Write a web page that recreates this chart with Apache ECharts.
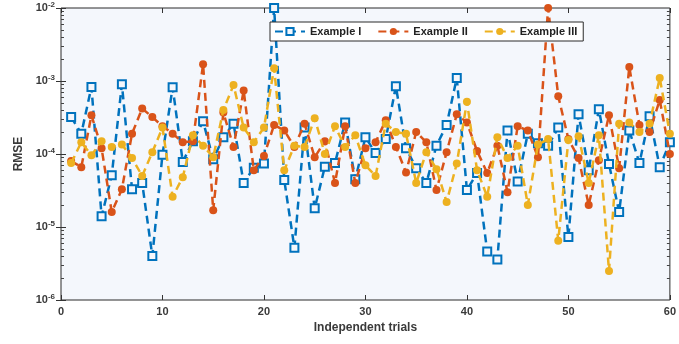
<!DOCTYPE html>
<html>
<head>
<meta charset="utf-8">
<script src="https://cdn.jsdelivr.net/npm/echarts@6/dist/echarts.min.js"></script>
<style>
  html, body { margin: 0; padding: 0; background: #fff; }
  #chart { width: 679px; height: 344px; }
</style>
</head>
<body>
<div id="chart"></div>
<script>
// trial numbers 1..60
var trials = [];
for (var t = 1; t <= 60; t++) trials.push(t);

var seriesNames = ['Example I', 'Example II', 'Example III'];

var exampleI = [
  3.2e-4, 1.9e-4, 8.3e-4, 1.4e-5, 5.1e-5, 9.0e-4, 3.3e-5, 4.0e-5, 4.0e-6, 9.8e-5,
  8.2e-4, 7.8e-5, 1.5e-4, 2.8e-4, 8.5e-5, 1.7e-4, 2.6e-4, 4.0e-5, 6.5e-5, 7.4e-5,
  1.0e-2, 4.4e-5, 5.2e-6, 2.3e-4, 1.8e-5, 6.7e-5, 7.5e-5, 2.7e-4, 4.5e-5, 1.7e-4,
  1.03e-4, 1.6e-4, 8.5e-4, 1.2e-4, 6.4e-5, 4.0e-5, 1.3e-4, 2.5e-4, 1.1e-3, 3.2e-5,
  5.5e-5, 4.6e-6, 3.6e-6, 2.1e-4, 4.2e-5, 1.9e-4, 1.4e-4, 1.3e-4, 2.3e-4, 7.3e-6,
  3.5e-4, 6.0e-5, 4.1e-4, 7.3e-5, 1.6e-5, 2.1e-4, 7.5e-5, 3.3e-4, 6.6e-5, 1.45e-4
];
var exampleII = [
  8.0e-5, 6.6e-5, 3.4e-4, 1.2e-4, 1.6e-5, 3.3e-5, 1.9e-4, 4.2e-4, 3.2e-4, 2.4e-4,
  1.9e-4, 1.45e-4, 1.5e-4, 1.7e-3, 1.7e-5, 3.7e-4, 1.25e-4, 7.4e-4, 6.0e-5, 9.4e-5,
  2.5e-4, 2.1e-4, 1.25e-4, 2.6e-4, 9.0e-5, 1.5e-4, 4.0e-5, 2.4e-4, 4.0e-5, 1.2e-4,
  1.45e-4, 2.9e-4, 1.25e-4, 5.6e-5, 2.0e-4, 1.45e-4, 3.2e-5, 1.06e-4, 3.5e-4, 2.7e-4,
  1.1e-4, 5.5e-5, 1.3e-4, 3.0e-5, 2.4e-4, 2.1e-4, 9.0e-5, 1.0e-2, 6.2e-4, 1.6e-4,
  8.8e-5, 2.0e-5, 8.2e-5, 3.4e-4, 6.4e-5, 1.55e-3, 2.5e-4, 2.0e-4, 5.5e-4, 1.0e-4
];
var exampleIII = [
  7.5e-5, 1.45e-4, 9.6e-5, 1.5e-4, 1.25e-4, 1.35e-4, 8.8e-5, 5.0e-5, 1.06e-4, 2.3e-4,
  2.6e-5, 4.8e-5, 1.8e-4, 1.3e-4, 9.0e-5, 4.0e-4, 8.8e-4, 2.3e-4, 1.45e-4, 2.3e-4,
  1.5e-3, 6.0e-5, 1.3e-4, 1.25e-4, 3.1e-4, 1.0e-4, 2.4e-4, 1.25e-4, 1.8e-4, 7.0e-5,
  5.0e-5, 2.6e-4, 2.0e-4, 1.9e-4, 4.0e-5, 1.06e-4, 6.2e-5, 2.2e-5, 7.4e-5, 5.2e-4,
  6.0e-5, 2.6e-5, 1.7e-4, 8.8e-5, 1.3e-4, 2.0e-5, 1.35e-4, 1.6e-4, 6.5e-6, 1.55e-4,
  1.75e-4, 4.0e-5, 1.8e-4, 2.5e-6, 2.6e-4, 2.7e-4, 2.0e-4, 2.6e-4, 1.1e-3, 1.9e-4
];

// log-axis minor tick positions (2..9 x 10^k), as exponents
var minorExps = [];
for (var k = -6; k < -2; k++) {
  for (var m = 2; m <= 9; m++) minorExps.push(k + Math.log(m) / Math.LN10);
}

var colors = ['#0072BD', '#D95319', '#EDB120'];
var labelColor = '#3a3a3a';
var fontFamily = '"Liberation Sans", Arial, sans-serif';

function pairs(vals) {
  return vals.map(function (v, i) { return [trials[i], v]; });
}

function makeSeries(name, vals, idx) {
  var s = {
    name: name,
    type: 'line',
    data: pairs(vals),
    symbolSize: 8,
    symbol: idx === 0 ? 'rect' : 'circle',
    lineStyle: { color: colors[idx], width: 2.5, type: [8, 5] },
    itemStyle: { color: colors[idx] },
    emphasis: { disabled: true },
    z: 2 + idx
  };
  if (idx === 0) {
    s.symbolSize = 8;
    s.itemStyle = { color: '#f4f7fc', borderColor: colors[0], borderWidth: 2 };
  }
  return s;
}

var chart = echarts.init(document.getElementById('chart'));

var tickStyle = { inside: true, length: 5, lineStyle: { color: '#333', width: 1 } };

function minorAxis(pos) {
  return {
    type: 'value',
    position: pos,
    min: -6, max: -2,
    axisLine: { show: false },
    axisTick: { inside: true, length: 3, customValues: minorExps, lineStyle: { color: '#444', width: 1 } },
    splitLine: { show: false },
    axisLabel: { show: false }
  };
}

var option = {
  animation: false,
  grid: {
    left: 61, right: 7, top: 8, bottom: 44,
    show: true,
    backgroundColor: '#f4f7fc',
    borderColor: '#2b2b2b',
    borderWidth: 1
  },
  legend: {
    data: seriesNames,
    left: 270,
    top: 22,
    orient: 'horizontal',
    backgroundColor: '#ffffff',
    borderColor: '#2b2b2b',
    borderWidth: 1,
    borderRadius: 0,
    padding: [4, 6, 4, 4],
    itemWidth: 30,
    itemHeight: 9,
    itemGap: 16,
    textStyle: { fontFamily: fontFamily, fontWeight: 'bold', fontSize: 11, color: '#222' }
  },
  xAxis: [{
    type: 'value',
    min: 0, max: 60, interval: 10,
    name: 'Independent trials',
    nameLocation: 'middle',
    nameGap: 21,
    nameTextStyle: { fontFamily: fontFamily, fontWeight: 'bold', fontSize: 12, color: labelColor },
    axisLine: { show: false },
    axisTick: tickStyle,
    splitLine: { show: false },
    axisLabel: { fontFamily: fontFamily, fontWeight: 'bold', fontSize: 11, color: labelColor, margin: 6 }
  }, {
    type: 'value',
    position: 'top',
    min: 0, max: 60, interval: 10,
    axisLine: { show: false },
    axisTick: tickStyle,
    splitLine: { show: false },
    axisLabel: { show: false }
  }],
  yAxis: [{
    type: 'log',
    logBase: 10,
    min: 1e-6, max: 1e-2,
    name: 'RMSE',
    nameLocation: 'middle',
    nameGap: 36,
    nameRotate: 90,
    nameTextStyle: { fontFamily: fontFamily, fontWeight: 'bold', fontSize: 12, color: labelColor },
    axisLine: { show: false },
    axisTick: tickStyle,
    splitLine: { show: false },
    axisLabel: {
      margin: 6,
      formatter: function (v) {
        var e = Math.round(Math.log(v) / Math.LN10);
        return '{b|10}{s|' + e + '}';
      },
      rich: {
        b: { fontFamily: fontFamily, fontWeight: 'bold', fontSize: 11, color: labelColor, lineHeight: 14 },
        s: { fontFamily: fontFamily, fontWeight: 'bold', fontSize: 8, color: labelColor, verticalAlign: 'top', lineHeight: 14, padding: [0, 0, 6, 0] }
      }
    }
  }, {
    type: 'log',
    logBase: 10,
    position: 'right',
    min: 1e-6, max: 1e-2,
    axisLine: { show: false },
    axisTick: tickStyle,
    splitLine: { show: false },
    axisLabel: { show: false }
  },
  minorAxis('left'),
  minorAxis('right')
  ],
  series: [
    makeSeries(seriesNames[0], exampleI, 0),
    makeSeries(seriesNames[1], exampleII, 1),
    makeSeries(seriesNames[2], exampleIII, 2)
  ]
};

chart.setOption(option);
</script>
</body>
</html>
